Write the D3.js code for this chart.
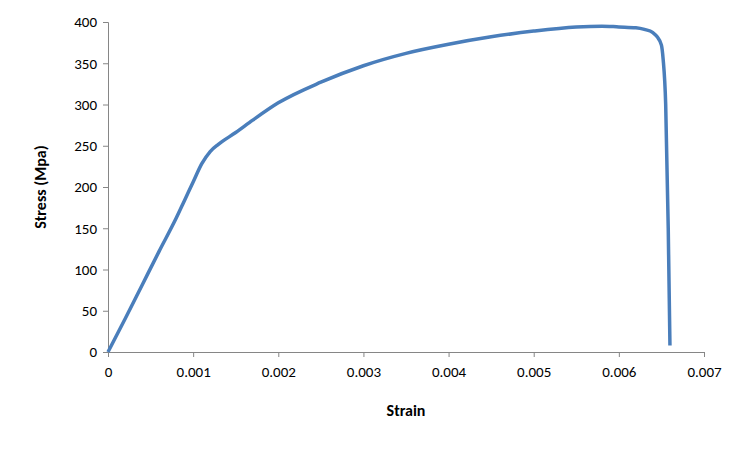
<!DOCTYPE html>
<html><head><meta charset="utf-8">
<script src="https://cdn.jsdelivr.net/npm/d3@7"></script>
<style>body{margin:0;background:#fff}</style></head>
<body><svg id="c" width="750" height="449"></svg>
<script>
const strain = [0,0.0002,0.0004,0.0006,0.0008,0.0009,0.001,0.0011,0.0012,0.0013,0.0015,0.0017,0.002,0.0025,0.003,0.0035,0.004,0.0045,0.005,0.0055,0.0058,0.006,0.0062,0.0063,0.0064,0.00645,0.0065,0.00652,0.00655,0.00658,0.0066];
const stress = [0,40,81,122,162,184,206,228,243,252,266,281,302,327,347,362,373,382,389,394,395,394,393,391,387,382,372,355,300,150,8];
const xTicks = [0,0.001,0.002,0.003,0.004,0.005,0.006,0.007];
const yTicks = [0,50,100,150,200,250,300,350,400];
const svg = d3.select("#c");
const x = d3.scaleLinear().domain([0,0.007]).range([108,704]);
const y = d3.scaleLinear().domain([0,400]).range([352,22]);
const font = "Carlito, Liberation Sans, Arial, sans-serif";
const xa = svg.append("g").attr("transform","translate(0,352)")
  .call(d3.axisBottom(x).tickValues(xTicks).tickFormat(d=>d===0?"0":d3.format(".3f")(d)).tickSizeOuter(0).tickSize(5));
const ya = svg.append("g").attr("transform","translate(108,0)")
  .call(d3.axisLeft(y).tickValues(yTicks).tickSizeOuter(0).tickSize(5));
[xa,ya].forEach(a=>{a.selectAll("path,line").attr("stroke","#868686");
  a.selectAll("text").attr("font-family",font).attr("font-size",15).attr("fill","#000");});
xa.selectAll("text").attr("dy","1.1em");
ya.selectAll("text").attr("dx","-0.2em");
svg.append("path").datum(strain.map((s,i)=>[s,stress[i]]))
  .attr("d",d3.line().x(d=>x(d[0])).y(d=>y(d[1])).curve(d3.curveMonotoneX))
  .attr("fill","none").attr("stroke","#4a7ebb").attr("stroke-width",3.5);
svg.append("text").attr("x",406).attr("y",416).attr("text-anchor","middle")
  .attr("font-family",font).attr("font-size",16).attr("font-weight","bold").text("Strain");
svg.append("text").attr("transform","translate(46,187) rotate(-90)").attr("text-anchor","middle")
  .attr("font-family",font).attr("font-size",16).attr("font-weight","bold").text("Stress (Mpa)");
</script></body></html>
